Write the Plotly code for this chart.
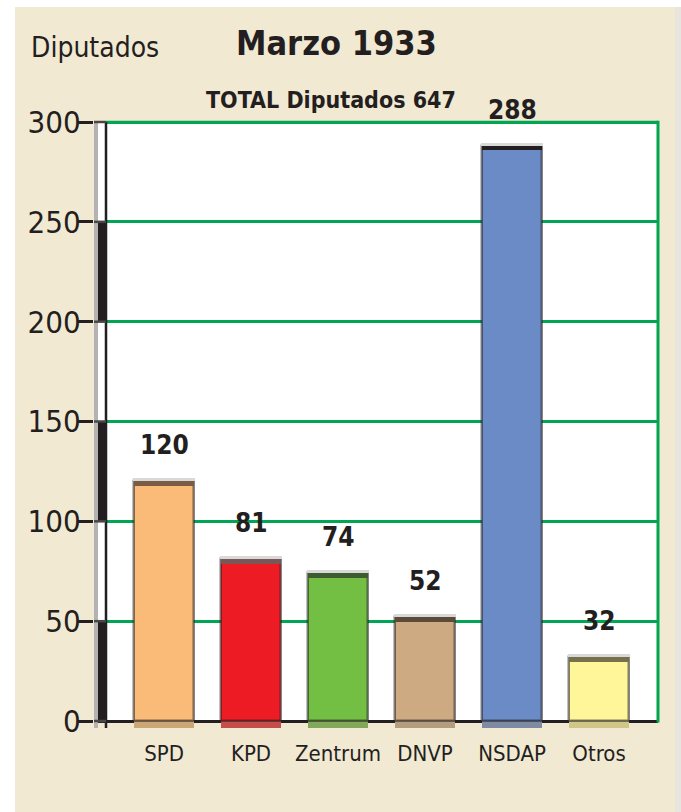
import plotly.graph_objects as go

# ---- data ----
categories = ["SPD", "KPD", "Zentrum", "DNVP", "NSDAP", "Otros"]
seats = [120, 81, 74, 52, 288, 32]
bar_colors = ["#F9BB77", "#ED1C24", "#72BF44", "#CDAA82", "#6B8BC6", "#FFF599"]
cap_colors = ["#7A5C42", "#7B5656", "#3E5C30", "#5C4B3A", "#231F20", "#77704C"]
y_ticks = [0, 50, 100, 150, 200, 250, 300]
title_text = "Marzo 1933"
subtitle_text = "TOTAL Diputados 647"
axis_title = "Diputados"

FONT = "DejaVu Sans Condensed, DejaVu Sans, sans-serif"
INK = "#231F20"
BEIGE = "#F2E9D3"
GREEN = "#00A651"


def blend(c, g=(150, 140, 120), t=0.45):
    c = c.lstrip("#")
    r, gg, b = int(c[0:2], 16), int(c[2:4], 16), int(c[4:6], 16)
    r = round(r * (1 - t) + g[0] * t)
    gg = round(gg * (1 - t) + g[1] * t)
    b = round(b * (1 - t) + g[2] * t)
    return f"rgb({r},{gg},{b})"


x = list(range(len(categories)))
W = 0.69
X0, X1 = -0.667, 5.678          # inner (white) plot area in category units
AXIS_PX, RIN = 106, 658
UNIT = (RIN - AXIS_PX) / (X1 - X0)  # pixels per category unit
BAND_PX = 12                      # scale band left of the axis
PAD_R = 3                         # room so the green border is not clipped
L = AXIS_PX - BAND_PX
R = RIN + PAD_R
XL = X0 - BAND_PX / UNIT
XR = X1 + PAD_R / UNIT
Y0, Y1 = -3.5, 301.5
T = 122 - (Y1 - 300) * 1.997
B = 728
PW, PH = R - L, B - T


def px(v):
    return (v - L) / PW


def py(v):
    return (B - v) / PH


fig = go.Figure()
# left scale band (alternating black / white every 50 seats)
band_lo = y_ticks[:-1]
band_h = [b - a for a, b in zip(y_ticks[:-1], y_ticks[1:])]
band_w = 8.5 / UNIT
fig.add_trace(go.Bar(x=[X0 - band_w / 2] * len(band_lo), y=band_h, base=band_lo, width=band_w,
                     marker=dict(color=[INK if i % 2 == 0 else "white" for i in range(len(band_lo))],
                                 line=dict(width=0)),
                     hoverinfo="skip", showlegend=False))
strip_w = 3.5 / UNIT
fig.add_trace(go.Bar(x=[X0 - band_w - strip_w / 2], y=[y_ticks[-1] + 3.5], base=-3.5, width=strip_w,
                     marker=dict(color="#B3B3B3", line=dict(width=0)),
                     hoverinfo="skip", showlegend=False))
# bottom strip below the axis
fig.add_trace(go.Bar(x=x, y=[3.5] * len(x), base=-3.5, width=W,
                     marker=dict(color=[blend(c) for c in bar_colors], line=dict(width=0)),
                     hoverinfo="skip", showlegend=False))
# main bars
fig.add_trace(go.Bar(x=x, y=seats, base=0, width=W,
                     marker=dict(color=bar_colors, line=dict(color="rgba(35,31,32,0.55)", width=2.5)),
                     showlegend=False))
# dark cap
fig.add_trace(go.Bar(x=x, y=[2.2] * len(x), base=[v - 2.2 for v in seats], width=W,
                     marker=dict(color=cap_colors, line=dict(width=0)),
                     hoverinfo="skip", showlegend=False))
# light highlight above cap
fig.add_trace(go.Bar(x=x, y=[1.6] * len(x), base=seats, width=W + 0.03,
                     marker=dict(color="#D9D9D9", line=dict(width=0)),
                     hoverinfo="skip", showlegend=False))

shapes = []
shapes.append(dict(type="rect", xref="paper", yref="paper", x0=px(15), x1=px(675), y0=py(813), y1=py(7),
                   fillcolor=BEIGE, line=dict(width=0), layer="below"))
shapes.append(dict(type="rect", xref="paper", yref="paper", x0=px(675), x1=px(682), y0=py(813), y1=py(7),
                   fillcolor="#E8E5DD", line=dict(width=0), layer="below"))
shapes.append(dict(type="rect", xref="x", yref="y", x0=X0, x1=X1, y0=0, y1=300,
                   fillcolor="white", line=dict(width=0), layer="below"))
# beige beyond the right border (covers the zero line there)
shapes.append(dict(type="rect", xref="x", yref="y", x0=X1, x1=XR, y0=Y0, y1=Y1,
                   fillcolor=BEIGE, line=dict(width=0), layer="above"))
# top green border, left axis line and right green border
shapes.append(dict(type="line", xref="x", yref="y", x0=X0, x1=X1, y0=300, y1=300,
                   line=dict(color=GREEN, width=2.5), layer="below"))
shapes.append(dict(type="line", xref="x", yref="y", x0=X0, x1=X0, y0=-3.5, y1=300,
                   line=dict(color=INK, width=2.5), layer="above"))
shapes.append(dict(type="line", xref="x", yref="y", x0=X1, x1=X1, y0=-0.8, y1=300.6,
                   line=dict(color=GREEN, width=3), layer="above"))
# tick marks crossing the band
for t in y_ticks:
    shapes.append(dict(type="line", xref="x", yref="y", x0=XL, x1=X0, y0=t, y1=t,
                       line=dict(color="#4A4647", width=2.5), layer="above"))

annotations = []
for xi, v in zip(x, seats):
    annotations.append(dict(x=xi, y=v, xref="x", yref="y", text=str(v), showarrow=False,
                            yanchor="bottom", yshift=19,
                            font=dict(family=FONT, size=26, color=INK, weight="bold")))
annotations.append(dict(xref="paper", yref="paper", x=px(336), y=py(43), text=title_text,
                        showarrow=False, xanchor="center", yanchor="middle",
                        font=dict(family=FONT, size=34, color=INK, weight="bold")))
annotations.append(dict(xref="paper", yref="paper", x=px(331), y=py(100), text=subtitle_text,
                        showarrow=False, xanchor="center", yanchor="middle",
                        font=dict(family=FONT, size=23, color=INK, weight="bold")))
annotations.append(dict(xref="paper", yref="paper", x=px(29), y=py(48), text=axis_title,
                        showarrow=False, xanchor="left", yanchor="middle",
                        font=dict(family=FONT, size=28, color=INK)))

fig.update_layout(
    width=681, height=812,
    margin=dict(l=L, r=681 - R, t=T, b=812 - B, pad=0),
    paper_bgcolor="white", plot_bgcolor="rgba(0,0,0,0)",
    barmode="overlay", bargap=0,
    shapes=shapes, annotations=annotations,
    xaxis=dict(range=[XL, XR], tickmode="array", tickvals=x, ticktext=categories,
               showgrid=False, zeroline=False, showline=False, ticks="", tickangle=0,
               tickfont=dict(family=FONT, size=22, color=INK), ticklabelstandoff=10,
               automargin=False, fixedrange=True),
    yaxis=dict(range=[Y0, Y1], tickmode="array", tickvals=y_ticks,
               ticks="outside", ticklen=AXIS_PX - 79 - BAND_PX, tickwidth=2.5, tickcolor=INK,
               showline=False,
               showgrid=True, gridcolor=GREEN, gridwidth=2.5,
               zeroline=True, zerolinecolor=INK, zerolinewidth=3,
               tickfont=dict(family=FONT, size=31, color=INK), ticklabelstandoff=-9,
               automargin=False, fixedrange=True),
    font=dict(family=FONT, color=INK),
)

fig.write_html(
    "out.html",
    config={"displayModeBar": False},
    post_script="document.body.style.margin='0';document.body.style.overflow='hidden';",
)
